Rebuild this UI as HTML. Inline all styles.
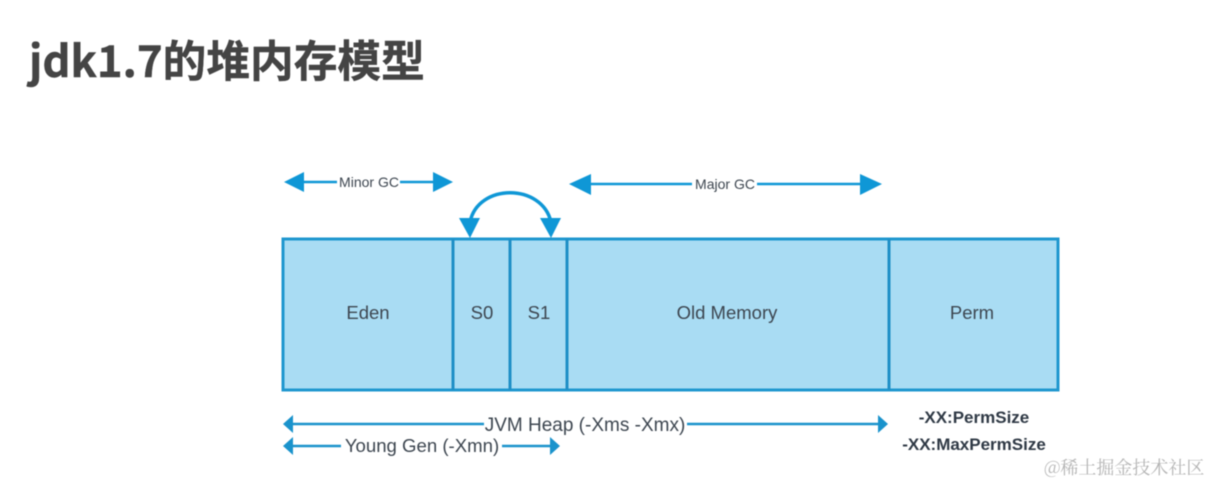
<!DOCTYPE html>
<html><head><meta charset="utf-8"><style>
html,body{margin:0;padding:0;background:#fff;width:1210px;height:484px;overflow:hidden}
svg{display:block}
text{font-family:"Liberation Sans","Noto Sans CJK SC",sans-serif}
.soft{filter:blur(.55px)}
</style></head><body>
<svg width="1210" height="484" viewBox="0 0 1210 484" xmlns="http://www.w3.org/2000/svg">
<rect width="1210" height="484" fill="#fff"/>
<g class="soft">
<text x="29" y="77" font-size="43.7" font-weight="700" fill="#444" stroke="#444" stroke-width=".4" style="font-family:'Noto Sans CJK SC',sans-serif">jdk1.7的堆内存模型</text>

<rect x="283" y="239" width="775" height="151" fill="#a9dcf3" stroke="#1f97cf" stroke-width="3"/>
<g stroke="#1f8fc6" stroke-width="3"><line x1="453" y1="239" x2="453" y2="390"/><line x1="510" y1="239" x2="510" y2="390"/><line x1="567" y1="239" x2="567" y2="390"/><line x1="889" y1="239" x2="889" y2="390"/></g>
<g font-size="18.5" fill="#3d4650" text-anchor="middle">
<text x="368" y="319">Eden</text><text x="482" y="319">S0</text><text x="539" y="319">S1</text><text x="727" y="319">Old Memory</text><text x="972" y="319">Perm</text>
</g>

<g fill="#0f97d6">
<polygon points="284,182 304,172 304,192"/><polygon points="453,182 433,172 433,192"/>
<polygon points="569,184 591,174 591,195"/><polygon points="882,184 860,174 860,195"/>
<polygon points="470,238 459,218 480,218"/><polygon points="551,238 540,218 561,218"/>
</g>
<g stroke="#0f97d6" stroke-width="2.5" fill="none">
<line x1="300" y1="182" x2="337" y2="182"/><line x1="400" y1="182" x2="437" y2="182"/>
<line x1="588" y1="184" x2="692" y2="184"/><line x1="757" y1="184" x2="864" y2="184"/>
<path d="M470,222 C478,183 542,183 551,222" stroke-width="3.5"/>
</g>
<text x="369" y="187" font-size="14" fill="#3d4650" text-anchor="middle">Minor GC</text>
<text x="725" y="189" font-size="14" fill="#3d4650" text-anchor="middle">Major GC</text>

<g fill="#1a93cc">
<polygon points="283,424 293,415 293,433"/><polygon points="888,424 878,415 878,433"/>
<polygon points="283,446 293,437 293,455"/><polygon points="560,446 550,437 550,455"/>
</g>
<g stroke="#1a93cc" stroke-width="2.5">
<line x1="290" y1="424" x2="484" y2="424"/><line x1="687" y1="424" x2="882" y2="424"/>
<line x1="290" y1="446" x2="341" y2="446"/><line x1="502" y1="446" x2="554" y2="446"/>
</g>
<text x="585" y="431" font-size="19" fill="#3d4650" text-anchor="middle">JVM Heap (-Xms -Xmx)</text>
<text x="422" y="452" font-size="18.6" fill="#3d4650" text-anchor="middle">Young Gen (-Xmn)</text>
<g font-size="17" font-weight="700" fill="#2f3945" text-anchor="middle">
<text x="974" y="423">-XX:PermSize</text><text x="974" y="450">-XX:MaxPermSize</text>
</g>
<text x="1044" y="474" font-size="18" fill="#b4b4b4" style="font-family:'Noto Serif CJK SC',serif">@稀土掘金技术社区</text>
</g>
</svg>
</body></html>
